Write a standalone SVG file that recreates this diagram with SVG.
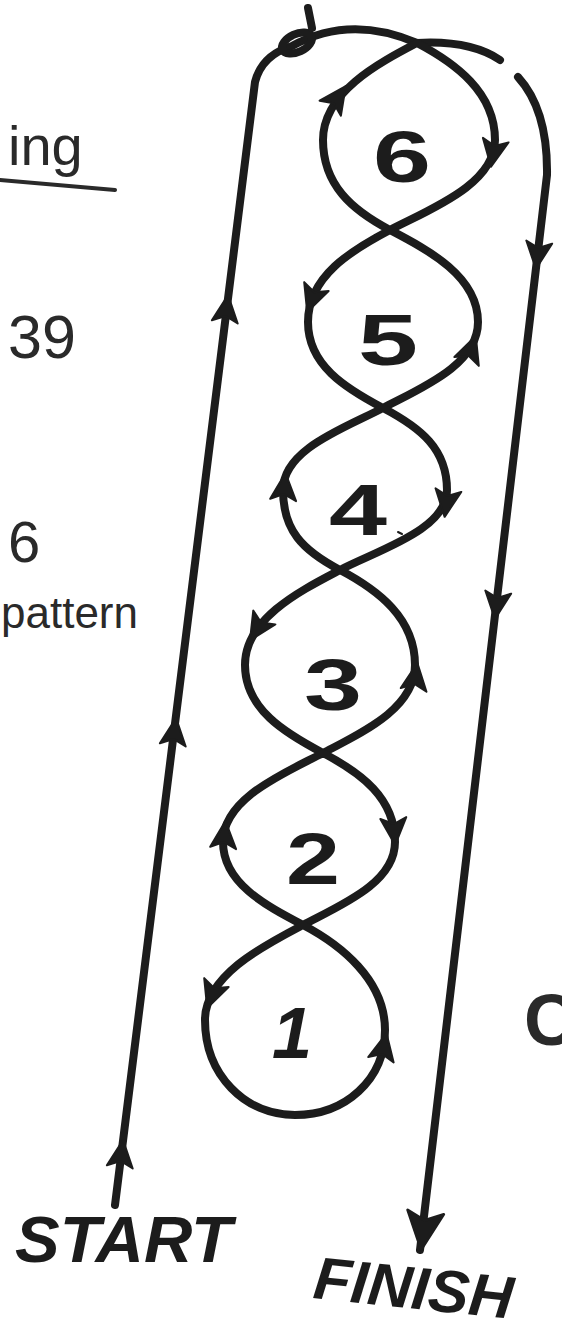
<svg xmlns="http://www.w3.org/2000/svg" xmlns:xlink="http://www.w3.org/1999/xlink" width="562" height="1338" viewBox="0 0 562 1338">
<style>
  .ln { fill: none; stroke: #1c1c1c; stroke-width: 8; stroke-linecap: round; stroke-linejoin: round; }
  .ah { fill: #1c1c1c; stroke: #1c1c1c; stroke-width: 2; stroke-linejoin: round; }
  .num { font-family: "Liberation Sans", Arial, sans-serif; font-weight: bold; font-size: 72px; fill: #1c1c1c; text-anchor: middle; }
  .cap { font-family: "Liberation Sans", Arial, sans-serif; font-weight: bold; font-style: italic; fill: #1c1c1c; }
  .hand { font-family: "Liberation Sans", Arial, sans-serif; fill: #2a2a2a; }
</style>
<defs>
  <path id="ah" class="ah" d="M0,-17 L-13,10 L0,4 L13,10 Z"/>
</defs>
<rect width="562" height="1338" fill="#ffffff"/>

<g id="margin-notes">
  <text class="hand" x="8" y="165" font-size="56">ing</text>
  <path d="M0,180 L115,190" fill="none" stroke="#2a2a2a" stroke-width="4" stroke-linecap="round"/>
  <text class="hand" x="8" y="358" font-size="61">39</text>
  <text class="hand" x="8" y="562" font-size="58">6</text>
  <text class="hand" x="1" y="628" font-size="44">pattern</text>
  <text class="hand" x="524" y="1045" font-size="72" font-weight="bold">C</text>
</g>

<g id="connectors">
  <path class="ln" d="M115,1205 L255,82 Q262,55 292,46 Q350,14 417,43 Q470,40 500,60"/>
  <ellipse class="ln" cx="297" cy="43" rx="16" ry="9" transform="rotate(-25 297 43)" stroke-width="6"/>
  <path class="ln" d="M308,8 L312,28" stroke-width="5"/>
  <path class="ln" d="M518,77 Q548,110 547,175 L420,1250"/>
  <use xlink:href="#ah" transform="translate(226,312) rotate(7)"/>
  <use xlink:href="#ah" transform="translate(174,735) rotate(7)"/>
  <use xlink:href="#ah" transform="translate(121,1157) rotate(7)"/>
  <use xlink:href="#ah" transform="translate(538,252) rotate(187)"/>
  <use xlink:href="#ah" transform="translate(497,602) rotate(187)"/>
  <use xlink:href="#ah" transform="translate(424,1226) rotate(187) scale(1.4)"/>
</g>

<g id="loop6">
  <path class="ln" d="M417,43 C455,63 495,92 495,140 C495,185 428,210 390,230 C352,210 323,185 323,140 C323,92 379,63 417,43 Z"/>
  <use xlink:href="#ah" transform="translate(336,100) rotate(35)"/>
  <use xlink:href="#ah" transform="translate(494,150) rotate(190)"/>
  <text class="num" x="402" y="182" textLength="58" lengthAdjust="spacingAndGlyphs">6</text>
</g>

<g id="loop5">
  <path class="ln" d="M390,230 C428,250 478,276 478,322 C478,365 421,388 383,408 C345,388 308,365 308,322 C308,276 352,250 390,230 Z"/>
  <use xlink:href="#ah" transform="translate(313,296) rotate(200)"/>
  <use xlink:href="#ah" transform="translate(470,352) rotate(20)"/>
  <text class="num" x="388" y="365" textLength="60" lengthAdjust="spacingAndGlyphs">5</text>
</g>

<g id="loop4">
  <path class="ln" d="M383,408 C421,428 447,449 447,490 C447,530 378,550 340,570 C302,550 283,530 283,490 C283,449 345,428 383,408 Z"/>
  <use xlink:href="#ah" transform="translate(284,490) rotate(5)"/>
  <use xlink:href="#ah" transform="translate(447,500) rotate(188)"/>
  <text class="num" x="358" y="535" textLength="58" lengthAdjust="spacingAndGlyphs">4</text>
  <path d="M398,532 L402,534" stroke="#1c1c1c" stroke-width="2" stroke-linecap="round"/>
</g>

<g id="loop3">
  <path class="ln" d="M340,570 C378,590 415,618 415,665 C415,709 361,733 323,753 C285,733 245,709 245,665 C245,618 302,590 340,570 Z"/>
  <use xlink:href="#ah" transform="translate(259,626) rotate(212)"/>
  <use xlink:href="#ah" transform="translate(415,680) rotate(8)"/>
  <text class="num" x="333" y="710" textLength="58" lengthAdjust="spacingAndGlyphs">3</text>
</g>

<g id="loop2">
  <path class="ln" d="M323,753 C361,773 395,798 395,842 C395,883 341,905 303,925 C265,905 223,883 223,842 C223,798 285,773 323,753 Z"/>
  <use xlink:href="#ah" transform="translate(224,838) rotate(5)"/>
  <use xlink:href="#ah" transform="translate(394,828) rotate(176)"/>
  <text class="num" x="313" y="884" textLength="54" lengthAdjust="spacingAndGlyphs">2</text>
</g>

<g id="loop1">
  <path class="ln" d="M303,925 C341,945 385,980 385,1030 C385,1080 345,1115 295,1115 C245,1115 205,1075 205,1020 C205,975 265,945 303,925 Z"/>
  <use xlink:href="#ah" transform="translate(213,992) rotate(200)"/>
  <use xlink:href="#ah" transform="translate(383,1050) rotate(12)"/>
  <text class="num" x="292" y="1058" font-style="italic">1</text>
</g>

<g id="start">
  <text class="cap" x="15" y="1262" font-size="64" textLength="217" lengthAdjust="spacingAndGlyphs">START</text>
</g>
<g id="finish">
  <text class="cap" x="312" y="1298" font-size="60" textLength="200" lengthAdjust="spacingAndGlyphs" transform="rotate(6 312 1298)">FINISH</text>
</g>
</svg>
